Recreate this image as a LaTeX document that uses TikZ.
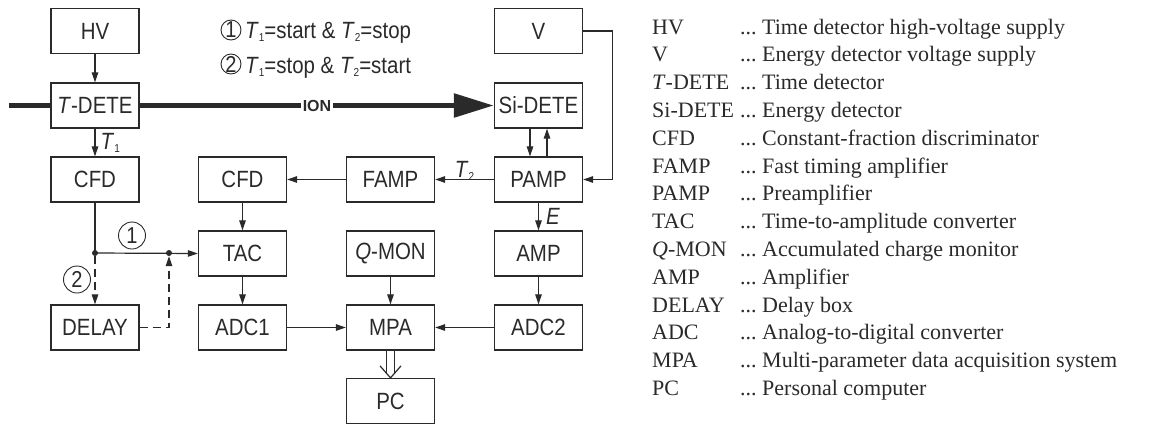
\documentclass[tikz,border=0pt]{standalone}
\usepackage{fontspec}
\setmainfont{Liberation Serif}
\newfontfamily\dfont[FakeStretch=0.87]{Liberation Sans}
\newfontfamily\ionfont{Liberation Sans}
\usetikzlibrary{arrows.meta}
\definecolor{ink}{HTML}{2A2A2A}
\newcommand\lsub[1]{\raisebox{-3pt}{\fontsize{11.5}{11.5}\selectfont #1}}
\begin{document}
\begin{tikzpicture}[x=1pt,y=-1pt,
 box/.style={draw=ink, line width=1.3pt, minimum width=88pt, minimum height=45pt, inner sep=0pt, font=\dfont\fontsize{23.5}{23.5}\selectfont, text=ink},
 arr/.style={draw=ink, line width=1.2pt, -{Triangle[length=10pt,width=6.5pt]}},
 ln/.style={draw=ink, line width=1.2pt},
 dsh/.style={dash pattern=on 8pt off 5pt},
 lbl/.style={font=\dfont\fontsize{23.5}{23.5}\selectfont, text=ink, inner sep=0pt},
 num/.style={circle, draw=ink, line width=0.9pt, inner sep=0pt, font=\dfont\fontsize{23}{23}\selectfont, text=ink},
 dot/.style={circle, fill=ink, inner sep=0pt, minimum size=6pt},
 leg/.style={font=\fontsize{22}{22}\selectfont, text=ink, inner sep=0pt, anchor=base west},
 beam/.style={line width=5.5pt, draw=ink}
]
\useasboundingbox (0,0) rectangle (1151,426);

% boxes
\node[box] (hv) at (95,31) {HV};
\node[box] (tdete) at (95,105.5) {\textit{T}-DETE};
\node[box] (cfd1) at (95,179.5) {CFD};
\node[box] (delay) at (95,327.5) {DELAY};
\node[box] (cfd2) at (242.5,179.5) {CFD};
\node[box] (tac) at (242.5,253.5) {TAC};
\node[box] (adc1) at (242.5,327.5) {ADC1};
\node[box] (famp) at (390.5,179.5) {FAMP};
\node[box] (qmon) at (390.5,253.5) {\textit{Q}-MON};
\node[box] (mpa) at (390.5,327.5) {MPA};
\node[box] (pc) at (390.5,401) {PC};
\node[box] (v) at (538.5,31) {V};
\node[box] (sidete) at (538.5,105.5) {Si-DETE};
\node[box] (pamp) at (538.5,179.5) {PAMP};
\node[box] (amp) at (538.5,253.5) {AMP};
\node[box] (adc2) at (538.5,327.5) {ADC2};

% ion beam
\node[font=\ionfont\bfseries\fontsize{16}{16}\selectfont, text=ink, inner sep=1.5pt] (ion) at (317,105.5) {ION};
\coordinate (beamin) at (9,105.5);
\draw[beam] (beamin) -- (tdete.west);
\draw[beam] (tdete.east) -- (ion.west);
\draw[beam, -{Triangle[length=40pt,width=23pt]}] (ion.east) -- (sidete.west);

% connectors
\draw[arr] (hv) -- (tdete);
\draw[arr] (tdete) -- (cfd1) node[lbl, midway, anchor=west, xshift=5pt] (t1lab) {\textit{T}\lsub{1}};
\draw[arr] (pamp) -- (famp) node[lbl, midway, anchor=south, yshift=-1.5pt] (t2lab) {\textit{T}\lsub{2}};
\draw[arr] (famp) -- (cfd2);
\draw[arr] (cfd2) -- (tac);
\draw[arr] (tac) -- (adc1);
\draw[arr] (adc1) -- (mpa);
\draw[arr] (qmon) -- (mpa);
\draw[arr] (adc2) -- (mpa);
\draw[arr] (amp) -- (adc2);
\draw[arr] (pamp) -- (amp) node[lbl, midway, anchor=west, xshift=7pt] (elab) {\textit{E}};
\draw[arr] ([xshift=-8.5pt]sidete.south) -- ([xshift=-8.5pt]pamp.north);
\draw[arr] ([xshift=8.5pt]pamp.north) -- ([xshift=8.5pt]sidete.south);
\draw[arr] (v.east) -- ++(29,0) |- (pamp.east);

% double data arrow MPA -> PC
\draw[ln] ([xshift=-4pt]mpa.south) -- ([xshift=-4pt,yshift=4.5pt]pc.north);
\draw[ln] ([xshift=4pt]mpa.south) -- ([xshift=4pt,yshift=4.5pt]pc.north);
\draw[ln, line join=miter] ([xshift=-10.5pt,yshift=12pt]pc.north) -- (pc.north) -- ([xshift=10.5pt,yshift=12pt]pc.north);

% timing junctions
\node[dot] (d1) at (95,253) {};
\node[dot] (d2) at (169,253) {};
\draw[ln] (cfd1.south) -- (d1.center);
\draw[arr] (d1.center) -- (tac.west);
\draw[arr, dsh] (d1.south) -- (delay.north);
\draw[arr, dsh] (delay.east) -| (d2.south);
\node[num, minimum size=27pt] (n1) at (132,235.5) {1};
\node[num, minimum size=27pt] (n2) at (77,279.5) {2};

% top note
\node[num, minimum size=20pt] (c1) at (231,30) {1};
\node[lbl, anchor=base west] (note1) at (245,38.5) {\textit{T}\lsub{1}=start \& \textit{T}\lsub{2}=stop};
\node[num, minimum size=20pt] (c2) at (231,64) {2};
\node[lbl, anchor=base west] (note2) at (245,73) {\textit{T}\lsub{1}=stop \& \textit{T}\lsub{2}=start};

% legend
\foreach \i/\a/\b in {0/{HV}/{Time detector high-voltage supply},
  1/{V}/{Energy detector voltage supply},
  2/{\textit{T}-DETE}/{Time detector},
  3/{Si-DETE}/{Energy detector},
  4/{CFD}/{Constant-fraction discriminator},
  5/{FAMP}/{Fast timing amplifier},
  6/{PAMP}/{Preamplifier},
  7/{TAC}/{Time-to-amplitude converter},
  8/{\textit{Q}-MON}/{Accumulated charge monitor},
  9/{AMP}/{Amplifier},
  10/{DELAY}/{Delay box},
  11/{ADC}/{Analog-to-digital converter},
  12/{MPA}/{Multi-parameter data acquisition system},
  13/{PC}/{Personal computer}}{
  \node[leg] (la\i) at (652,{34+27.8*\i}) {\a};
  \node[leg] (lb\i) at (740,{34+27.8*\i}) {...\ \b};
}
\end{tikzpicture}
\end{document}
